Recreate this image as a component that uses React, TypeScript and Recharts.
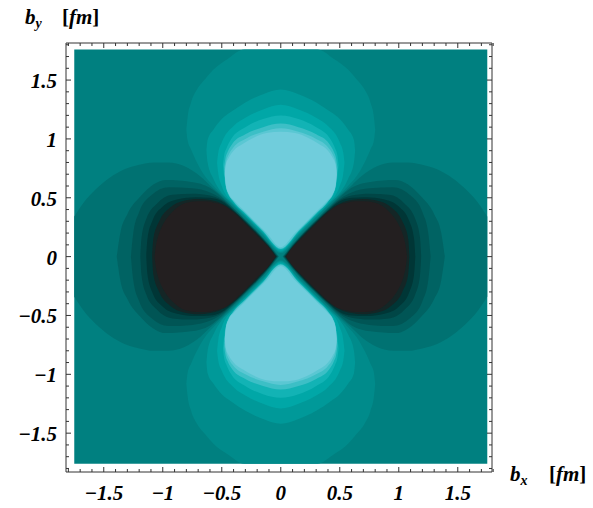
import React from 'react';
import { ComposedChart, Area, XAxis, YAxis } from 'recharts';

// light lobes (upper one, x >= 0 half): [x, lower edge, upper edge], in fm
const lightBand1 = [[0, 0.03, 1.76], [0.15, 0.18, 1.76], [0.31, 0.34, 1.76], [0.45, 0.48, 1.68], [0.57, 0.6, 1.59], [0.64, 0.68, 1.51], [0.71, 0.8, 1.42], [0.76, 0.91, 1.31], [0.79, 0.99, 1.18], [0.8, 1.08, 1.08]];
const lightBand2 = [[0, 0.04, 1.42], [0.15, 0.19, 1.38], [0.3, 0.34, 1.31], [0.42, 0.46, 1.23], [0.5, 0.54, 1.17], [0.57, 0.66, 1.08], [0.62, 0.8, 0.99], [0.63, 0.9, 0.9]];
const lightBand3 = [[0, 0.05, 1.29], [0.15, 0.2, 1.25], [0.3, 0.35, 1.18], [0.4, 0.45, 1.11], [0.5, 0.6, 0.97], [0.53, 0.71, 0.88], [0.54, 0.8, 0.8]];
const lightBand4 = [[0, 0.06, 1.2], [0.15, 0.21, 1.17], [0.3, 0.36, 1.1], [0.42, 0.49, 1.0], [0.46, 0.56, 0.92], [0.48, 0.68, 0.86], [0.49, 0.78, 0.78]];
const lightBand5 = [[0, 0.065, 1.13], [0.15, 0.215, 1.1], [0.3, 0.365, 1.04], [0.41, 0.48, 0.96], [0.45, 0.55, 0.89], [0.47, 0.64, 0.83], [0.48, 0.76, 0.76]];
const lightBand6 = [[0, 0.07, 1.09], [0.15, 0.22, 1.06], [0.3, 0.37, 1.0], [0.4, 0.47, 0.93], [0.44, 0.53, 0.87], [0.465, 0.62, 0.8], [0.475, 0.73, 0.73]];
const lightCore = [[0, 0.08, 1.06], [0.12, 0.2, 1.05], [0.23, 0.31, 1.01], [0.32, 0.4, 0.96], [0.4, 0.48, 0.9], [0.44, 0.53, 0.84], [0.465, 0.6, 0.78], [0.475, 0.7, 0.7]];

// dark lobes (right one, upper half): [x, half height], in fm
const darkBand1 = [[0.015, 0], [0.1, 0.105], [0.2, 0.215], [0.3, 0.315], [0.4, 0.415], [0.5, 0.515], [0.6, 0.605], [0.68, 0.68], [0.82, 0.77], [0.95, 0.8], [1.08, 0.8], [1.2, 0.78], [1.33, 0.74], [1.45, 0.67], [1.57, 0.57], [1.67, 0.46], [1.75, 0.34]];
const darkBand2 = [[0.02, 0], [0.1, 0.1], [0.2, 0.21], [0.3, 0.31], [0.4, 0.41], [0.5, 0.505], [0.6, 0.585], [0.76, 0.635], [0.97, 0.65], [1.19, 0.51], [1.3, 0.36], [1.36, 0.2], [1.39, 0]];
const darkBand3 = [[0.025, 0], [0.1, 0.095], [0.2, 0.205], [0.3, 0.305], [0.4, 0.4], [0.5, 0.49], [0.6, 0.545], [0.75, 0.58], [0.95, 0.59], [1.1, 0.52], [1.2, 0.38], [1.25, 0.2], [1.27, 0]];
const darkBand4 = [[0.03, 0], [0.1, 0.09], [0.2, 0.2], [0.3, 0.3], [0.4, 0.395], [0.5, 0.48], [0.6, 0.52], [0.75, 0.535], [0.92, 0.525], [1.05, 0.45], [1.14, 0.32], [1.18, 0.16], [1.19, 0]];
const darkBand5 = [[0.035, 0], [0.1, 0.085], [0.2, 0.195], [0.3, 0.295], [0.4, 0.39], [0.5, 0.47], [0.6, 0.5], [0.72, 0.505], [0.88, 0.485], [1.0, 0.425], [1.09, 0.3], [1.13, 0.15], [1.14, 0]];
const darkBand6 = [[0.04, 0], [0.1, 0.08], [0.2, 0.19], [0.3, 0.29], [0.4, 0.385], [0.5, 0.45], [0.6, 0.48], [0.7, 0.49], [0.82, 0.475], [0.94, 0.415], [1.03, 0.3], [1.08, 0.15], [1.09, 0]];
const darkCore = [[0.045, 0], [0.07, 0.04], [0.12, 0.1], [0.19, 0.167], [0.26, 0.238], [0.33, 0.31], [0.4, 0.375], [0.47, 0.43], [0.55, 0.455], [0.63, 0.47], [0.71, 0.47], [0.79, 0.46], [0.86, 0.43], [0.92, 0.38], [0.97, 0.32], [1.01, 0.25], [1.04, 0.17], [1.06, 0.08], [1.07, 0]];

const plotBox = [[-1.75, -1.76, 1.76], [1.75, -1.76, 1.76]];

const lightLevels = [lightBand1, lightBand2, lightBand3, lightBand4, lightBand5, lightBand6, lightCore];
const lightColors = ['#008b8b', '#009999', '#00a7a7', '#12b3b5', '#3cbfc6', '#5ac7d3', '#70cddc'];
const darkLevels = [darkBand1, darkBand2, darkBand3, darkBand4, darkBand5, darkBand6, darkCore];
const darkColors = ['#007272', '#006363', '#005555', '#004646', '#003636', '#142626', '#231f20'];

const majorTicks = [-1.5, -1, -0.5, 0, 0.5, 1, 1.5];
const tickLabels = ['−1.5', '−1', '−0.5', '0', '0.5', '1', '1.5'];
const allTicks = Array.from({ length: 37 }, (_, i) => Math.round((-1.8 + i * 0.1) * 10) / 10);

const FONT = '"Liberation Serif", "Times New Roman", serif';

// build both lobes from half profiles
const upperLobe = (half) => [
  ...half.slice(1).reverse().map(([x, lo, hi]) => ({ x: -x, r: [lo, hi] })),
  ...half.map(([x, lo, hi]) => ({ x, r: [lo, hi] })),
];
const lowerLobe = (half) => upperLobe(half).map((d) => ({ x: d.x, r: [-d.r[1], -d.r[0]] }));
const rightLobe = (half) => half.map(([x, h]) => ({ x, r: [-h, h] }));
const leftLobe = (half) => [...half].reverse().map(([x, h]) => ({ x: -x, r: [-h, h] }));

const labelFor = (v) => {
  const i = majorTicks.findIndex((m) => Math.abs(m - v) < 1e-6);
  return i >= 0 ? tickLabels[i] : null;
};

const FrameTick = (props) => {
  const { x, y, payload, side } = props;
  const label = labelFor(payload.value);
  const len = label !== null || Math.abs(payload.value * 2 - Math.round(payload.value * 2)) < 1e-6 ? 5 : 3;
  const txt = { fontFamily: FONT, fontWeight: 700, fontStyle: 'italic', fontSize: 21, fill: '#000' };
  if (side === 'bottom') {
    return (
      <g>
        <line x1={x} y1={y} x2={x} y2={y - len} stroke="#333" />
        {label && <text x={x} y={y + 28} textAnchor="middle" {...txt}>{label}</text>}
      </g>
    );
  }
  if (side === 'top') return <line x1={x} y1={y} x2={x} y2={y + len} stroke="#333" />;
  if (side === 'left') {
    return (
      <g>
        <line x1={x} y1={y} x2={x + len} y2={y} stroke="#333" />
        {label && <text x={x - 9} y={y + 8} textAnchor="end" {...txt}>{label}</text>}
      </g>
    );
  }
  return <line x1={x} y1={y} x2={x - len} y2={y} stroke="#333" />;
};

const band = (key, data, fill) => (
  <Area
    key={key}
    data={data}
    dataKey="r"
    xAxisId="b"
    yAxisId="l"
    type="monotone"
    stroke="none"
    fill={fill}
    fillOpacity={1}
    dot={false}
    activeDot={false}
    isAnimationActive={false}
  />
);

export default function App() {
  const axisLine = { stroke: '#333', strokeWidth: 1 };
  return (
    <div style={{ position: 'absolute', left: 0, top: 0, width: 593, height: 508, background: '#fff' }}>
      <ComposedChart width={593} height={508} margin={{ top: 42, right: 100, bottom: 0, left: 0 }}>
        <XAxis xAxisId="b" type="number" dataKey="x" domain={[-1.82, 1.79]} allowDataOverflow ticks={allTicks} interval={0}
          tickLine={false} tickSize={0} tickMargin={0} height={36} axisLine={axisLine}
          tick={(p) => <FrameTick {...p} side="bottom" />} />
        <XAxis xAxisId="t" orientation="top" type="number" dataKey="x" domain={[-1.82, 1.79]} allowDataOverflow ticks={allTicks} interval={0}
          tickLine={false} tickSize={0} tickMargin={0} height={1} axisLine={axisLine}
          tick={(p) => <FrameTick {...p} side="top" />} />
        <YAxis yAxisId="l" type="number" domain={[-1.83, 1.815]} allowDataOverflow ticks={allTicks} interval={0}
          tickLine={false} tickSize={0} tickMargin={0} width={66} axisLine={axisLine}
          tick={(p) => <FrameTick {...p} side="left" />} />
        <YAxis yAxisId="r" orientation="right" type="number" domain={[-1.83, 1.815]} allowDataOverflow ticks={allTicks} interval={0}
          tickLine={false} tickSize={0} tickMargin={0} width={1} axisLine={axisLine}
          tick={(p) => <FrameTick {...p} side="right" />} />
        {band('bg', plotBox.map(([x, lo, hi]) => ({ x, r: [lo, hi] })), '#008080')}
        {lightLevels.flatMap((lvl, i) => [
          band(`lu${i}`, upperLobe(lvl), lightColors[i]),
          band(`ll${i}`, lowerLobe(lvl), lightColors[i]),
        ])}
        {darkLevels.flatMap((lvl, i) => [
          band(`dr${i}`, rightLobe(lvl), darkColors[i]),
          band(`dl${i}`, leftLobe(lvl), darkColors[i]),
        ])}
      </ComposedChart>
      <svg width={593} height={508} style={{ position: 'absolute', left: 0, top: 0, pointerEvents: 'none' }}>
        <text x={25} y={24} fontFamily={FONT} fontWeight={700} fontSize={21}>
          <tspan fontStyle="italic">b</tspan>
          <tspan fontStyle="italic" fontSize={14} dy={4}>y</tspan>
          <tspan x={62} dy={-4}>[</tspan>
          <tspan fontStyle="italic">fm</tspan>
          <tspan>]</tspan>
        </text>
        <text x={510} y={481} fontFamily={FONT} fontWeight={700} fontSize={21}>
          <tspan fontStyle="italic">b</tspan>
          <tspan fontStyle="italic" fontSize={14} dy={4}>x</tspan>
          <tspan x={549} dy={-4}>[</tspan>
          <tspan fontStyle="italic">fm</tspan>
          <tspan>]</tspan>
        </text>
      </svg>
    </div>
  );
}
